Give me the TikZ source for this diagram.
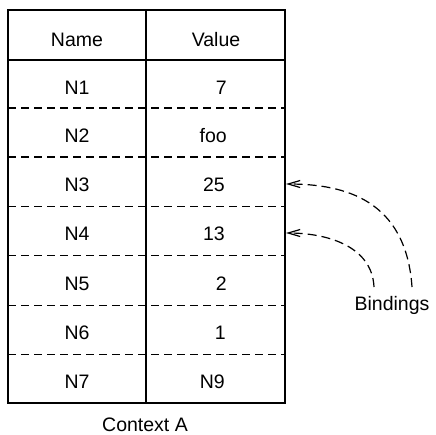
\documentclass[tikz,border=0pt]{standalone}
\usepackage{fontspec}
\setmainfont{Liberation Sans}
\usetikzlibrary{arrows.meta}
\tikzset{
  cell/.style={anchor=base,font=\fontsize{19.5}{22}\selectfont,inner sep=0pt},
  valcell/.style={cell,anchor=base east},
  rowsep/.style={dash pattern=on 8pt off 5pt,line width=1pt},
  bindarrow/.style={dash pattern=on 9pt off 5pt,line width=1.2pt,-{Straight Barb[length=12pt,width=7pt]}}
}

\begin{document}
\begin{tikzpicture}[x=1pt,y=-1pt]
\useasboundingbox (0,0) rectangle (436,434);
% Draw the row separators
\draw[rowsep,line width=1.4pt] (8,108) -- (285,108);
\draw[rowsep,line width=1.4pt] (8,157) -- (285,157);
\draw[rowsep] (8,206) -- (285,206);
\draw[rowsep] (8,255) -- (285,255);
\draw[rowsep] (8,305) -- (285,305);
\draw[rowsep] (8,354) -- (285,354);
% Draw the outer frame, header line and column line
\draw[line width=1.3pt] (8,10) rectangle (285,403);
\draw[line width=1.3pt] (8,60) -- (285,60);
\draw[line width=1.1pt] (146,10) -- (146,403);
% Header
\node[cell] (hname) at (77,46.5) {Name};
\node[cell] (hvalue) at (216,46.5) {Value};
% Names
\node[cell] (n1) at (77,94) {N1};
\node[cell] (n2) at (77,142.5) {N2};
\node[cell] (n3) at (77,191.5) {N3};
\node[cell] (n4) at (77,240.5) {N4};
\node[cell] (n5) at (77,290) {N5};
\node[cell] (n6) at (77,339.5) {N6};
\node[cell] (n7) at (77,388.5) {N7};
% Values
\node[valcell] (v1) at (227,94) {7};
\node[valcell] (v2) at (227,142.5) {foo};
\node[valcell] (v3) at (225,191.5) {25};
\node[valcell] (v4) at (225,240.5) {13};
\node[valcell] (v5) at (227,290) {2};
\node[valcell] (v6) at (226,339.5) {1};
\node[valcell] (v7) at (225,388.5) {N9};
% Labels
\node[cell] (ctx) at (145,431) {Context A};
\node[cell] (bind) at (392,310) {Bindings};
% Bindings arrows
\coordinate (bind3) at (412,287);
\coordinate (bind4) at (374,287);
\coordinate (slot3) at (286,184);
\coordinate (slot4) at (286,233);
\draw[bindarrow] (bind3) .. controls (406,200) and (345,184) .. (slot3);
\draw[bindarrow] (bind4) .. controls (372,245) and (325,233) .. (slot4);
\end{tikzpicture}
\end{document}
